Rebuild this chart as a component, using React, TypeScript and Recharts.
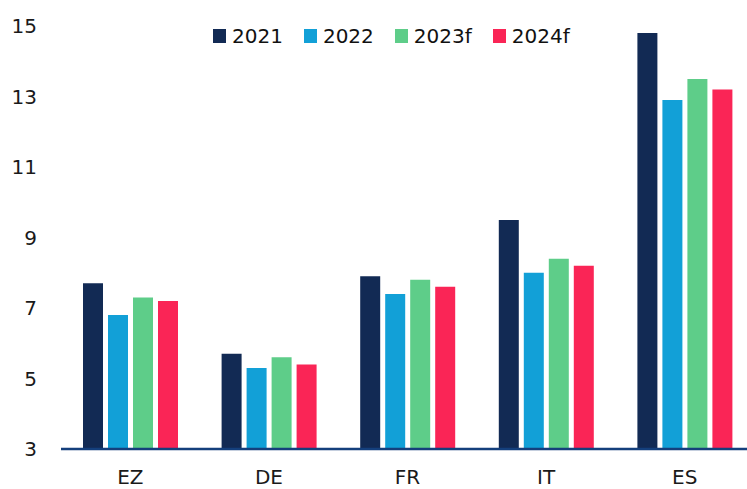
import React from "react";
import { BarChart, Bar, XAxis, YAxis } from "recharts";

// country groups and yearly values
const countries = ["EZ", "DE", "FR", "IT", "ES"];
const y2021 = [7.7, 5.7, 7.9, 9.5, 14.8];
const y2022 = [6.8, 5.3, 7.4, 8.0, 12.9];
const y2023f = [7.3, 5.6, 7.8, 8.4, 13.5];
const y2024f = [7.2, 5.4, 7.6, 8.2, 13.2];
const yTicks = [3, 5, 7, 9, 11, 13, 15];

const series = [
  { key: "2021", color: "#122a54" },
  { key: "2022", color: "#12a0d7" },
  { key: "2023f", color: "#5ecd89" },
  { key: "2024f", color: "#fa2556" },
];

const data = countries.map((c, i) => ({
  name: c,
  "2021": y2021[i],
  "2022": y2022[i],
  "2023f": y2023f[i],
  "2024f": y2024f[i],
}));

const FONT = "'DejaVu Sans', Verdana, sans-serif";
const tickStyle = { fontSize: 20, fill: "#1a1a1a", fontFamily: FONT };

const LegendBox = () => (
  <div
    style={{
      position: "absolute",
      top: 26,
      left: 213,
      display: "flex",
      alignItems: "center",
      height: 20,
      fontFamily: FONT,
      fontSize: 20,
      lineHeight: "20px",
      color: "#111",
      whiteSpace: "nowrap",
    }}
  >
    {series.map((s) => (
      <div
        key={s.key}
        style={{ display: "flex", alignItems: "center", marginRight: 21 }}
      >
        <span
          style={{
            display: "inline-block",
            width: 13,
            height: 14,
            background: s.color,
            marginRight: 6,
          }}
        />
        <span>{s.key}</span>
      </div>
    ))}
  </div>
);

export default function App() {
  return (
    <div
      style={{
        position: "absolute",
        top: 0,
        left: 0,
        width: 747,
        height: 489,
        overflow: "hidden",
        background: "#fff",
      }}
    >
      <BarChart
        width={754}
        height={489}
        data={data}
        margin={{ top: 26, right: 0, left: 0, bottom: 10 }}
        barSize={20}
        barGap={5}
      >
        <XAxis
          dataKey="name"
          height={30}
          tickLine={false}
          tickSize={6}
          tickMargin={15}
          axisLine={{ stroke: "#143f7c", strokeWidth: 2.5 }}
          tick={tickStyle}
        />
        <YAxis
          width={61}
          domain={[3, 15]}
          ticks={yTicks}
          axisLine={false}
          tickLine={false}
          tickSize={6}
          tickMargin={18}
          tick={tickStyle}
        />
        {series.map((s) => (
          <Bar
            key={s.key}
            dataKey={s.key}
            fill={s.color}
            isAnimationActive={false}
          />
        ))}
      </BarChart>
      <LegendBox />
    </div>
  );
}
